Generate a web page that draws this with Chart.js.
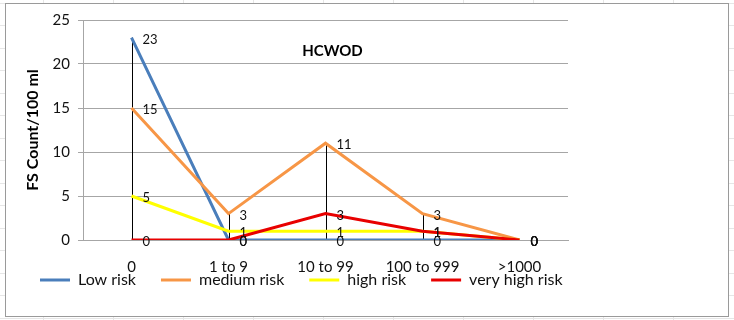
<!DOCTYPE html>
<html><head><meta charset="utf-8">
<script src="https://cdn.jsdelivr.net/npm/chart.js@4.4.0/dist/chart.umd.min.js"></script>
<style>html,body{margin:0;padding:0;background:#fff;}#wrap{width:734px;height:320px;}</style>
</head><body><div id="wrap"><canvas id="c" width="734" height="320"></canvas></div>
<script>
const categories = ['0', '1 to 9', '10 to 99', '100 to 999', '>1000'];
const lowRisk = [23, 0, 0, 0, 0];
const mediumRisk = [15, 3, 11, 3, 0];
const highRisk = [5, 1, 1, 1, 0];
const veryHighRisk = [0, 0, 3, 1, 0];
const seriesNames = ['Low risk', 'medium risk', 'high risk', 'very high risk'];
const yTickValues = [0, 5, 10, 15, 20, 25];
const chartTitle = 'HCWOD';
const yAxisTitle = 'FS Count/100 ml';

const FONT = 'Lato, Carlito, Calibri, "Liberation Sans", sans-serif';
const colors = ['#4A7EBB', '#F79646', '#FFFF00', '#E80000'];
const seriesData = [lowRisk, mediumRisk, highRisk, veryHighRisk];

const frame = {
  id: 'frame',
  beforeDraw(chart) {
    const ctx = chart.ctx;
    ctx.save();
    ctx.fillStyle = '#fff';
    ctx.fillRect(0, 0, chart.width, chart.height);
    ctx.strokeStyle = '#e6e6e6';
    ctx.lineWidth = 1;
    for (let x = 43.5; x < chart.width; x += 70) { ctx.beginPath(); ctx.moveTo(x, 0); ctx.lineTo(x, chart.height); ctx.stroke(); }
    for (let y = 2.5; y < chart.height; y += 22.5) { ctx.beginPath(); ctx.moveTo(0, Math.round(y) + 0.5); ctx.lineTo(chart.width, Math.round(y) + 0.5); ctx.stroke(); }
    ctx.fillStyle = '#fff';
    ctx.fillRect(5, 3, 724, 314);
    ctx.strokeStyle = '#9a9a9a';
    ctx.strokeRect(5.5, 3.5, 723, 313);
    ctx.restore();
  }
};

const dropLines = {
  id: 'dropLines',
  beforeDatasetsDraw(chart) {
    const ctx = chart.ctx, xs = chart.scales.x, ys = chart.scales.y;
    ctx.save();
    ctx.strokeStyle = '#000';
    ctx.lineWidth = 1;
    categories.forEach((c, i) => {
      const vals = seriesData.map(s => s[i]);
      const hi = Math.max(...vals), lo = Math.min(...vals);
      if (hi === lo) return;
      const x = Math.round(xs.getPixelForValue(i)) + 0.5;
      ctx.beginPath();
      ctx.moveTo(x, ys.getPixelForValue(hi));
      ctx.lineTo(x, ys.getPixelForValue(lo));
      ctx.stroke();
    });
    ctx.restore();
  }
};

const valueLabels = {
  id: 'valueLabels',
  afterDatasetsDraw(chart) {
    const ctx = chart.ctx;
    ctx.save();
    ctx.font = '13px ' + FONT;
    ctx.fillStyle = '#111';
    ctx.textAlign = 'left';
    ctx.textBaseline = 'middle';
    chart.data.datasets.forEach((ds, di) => {
      const meta = chart.getDatasetMeta(di);
      meta.data.forEach((pt, i) => {
        ctx.fillText(String(ds.data[i]), pt.x + 11, pt.y + 2);
      });
    });
    const a = chart.chartArea;
    ctx.font = 'bold 15px ' + FONT;
    ctx.fillStyle = '#000';
    ctx.textAlign = 'center';
    ctx.fillText(chartTitle, (a.left + a.right) / 2 + 7, a.top + 31);
    ctx.restore();
  }
};

new Chart(document.getElementById('c'), {
  type: 'line',
  data: {
    labels: categories,
    datasets: seriesData.map((d, i) => ({
      label: seriesNames[i],
      data: d,
      borderColor: colors[i],
      backgroundColor: colors[i],
      borderWidth: 3,
      pointRadius: 0,
      pointHoverRadius: 0,
      tension: 0,
      fill: false,
      order: 3 - i
    }))
  },
  options: {
    responsive: false,
    devicePixelRatio: 1,
    animation: false,
    events: [],
    layout: { padding: { left: 15, top: 20, right: 0, bottom: 22 } },
    plugins: {
      tooltip: { enabled: false },
      legend: {
        position: 'bottom',
        align: 'start',
        labels: {
          usePointStyle: true,
          pointStyle: 'line',
          pointStyleWidth: 30,
          padding: 25,
          color: '#111',
          font: { family: FONT, size: 16 },
          sort: (a, b) => a.datasetIndex - b.datasetIndex
        }
      }
    },
    scales: {
      x: {
        offset: true,
        grid: { display: false, drawTicks: false },
        border: { display: true, color: '#a6a6a6' },
        ticks: { padding: 18, color: '#111', font: { family: FONT, size: 15 }, maxRotation: 0, autoSkip: false },
        afterFit: s => { s.height = 7; s._computeLabelArea = () => undefined; }
      },
      y: {
        min: 0, max: 25,
        afterBuildTicks: s => { s.ticks = yTickValues.map(v => ({ value: v })); },
        grid: { color: '#a6a6a6', tickLength: 5 },
        border: { display: true, color: '#a6a6a6' },
        ticks: { padding: 8, color: '#111', font: { family: FONT, size: 15 } },
        title: { display: true, text: yAxisTitle, color: '#000', font: { family: FONT, size: 16, weight: 'bold' }, padding: { top: 8.5, bottom: 0 } },
        afterFit: s => { s.width = 68; }
      },
      yr: {
        position: 'right',
        display: true,
        grid: { display: false },
        border: { display: false },
        ticks: { display: false },
        afterFit: s => { s.width = 166; }
      }
    }
  },
  plugins: [frame, dropLines, valueLabels]
});
</script></body></html>
